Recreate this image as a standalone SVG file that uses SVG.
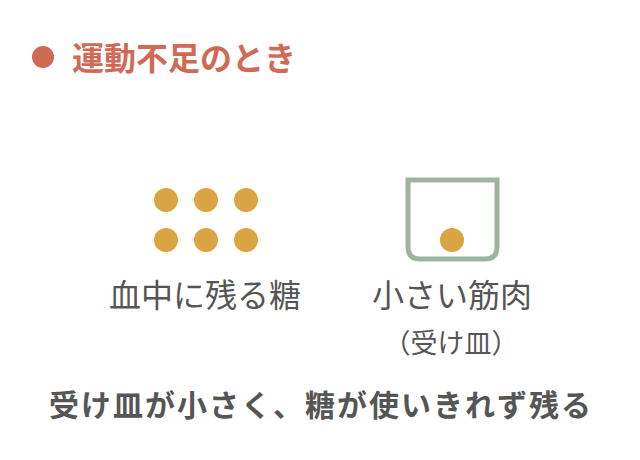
<svg xmlns="http://www.w3.org/2000/svg" width="640" height="460" viewBox="0 0 640 460">
<style>
text{font-family:"Noto Sans CJK JP","Noto Sans",sans-serif;}
.dot{fill:#d9a441;}
.lbl{font-size:32px;fill:#555;text-anchor:middle;}
.sub{font-size:27px;}
</style>
<rect width="640" height="460" fill="#fff"/>
<g id="title">
<circle cx="43" cy="57" r="11" fill="#d06a55"/>
<text x="72" y="70" font-size="32" font-weight="bold" fill="#d06a55">運動不足のとき</text>
</g>
<g id="blood-sugar">
<circle class="dot" cx="166" cy="200" r="12"/>
<circle class="dot" cx="206" cy="200" r="12"/>
<circle class="dot" cx="246" cy="200" r="12"/>
<circle class="dot" cx="166" cy="240" r="12"/>
<circle class="dot" cx="206" cy="240" r="12"/>
<circle class="dot" cx="246" cy="240" r="12"/>
<text class="lbl" x="205" y="307">血中に残る糖</text>
</g>
<g id="small-muscle">
<path d="M408 180 V247 Q408 259 420 259 H485 Q497 259 497 247 V180 Z" fill="none" stroke="#9db59c" stroke-width="5"/>
<circle class="dot" cx="452" cy="240" r="12"/>
<text class="lbl" x="452" y="307">小さい筋肉</text>
<text class="lbl sub" x="451" y="353">（受け皿）</text>
</g>
<g id="connectors"></g>
<g id="summary">
<text x="321" y="416" font-size="30" font-weight="bold" fill="#555" text-anchor="middle" letter-spacing="2">受け皿が小さく、糖が使いきれず残る</text>
</g>
</svg>
